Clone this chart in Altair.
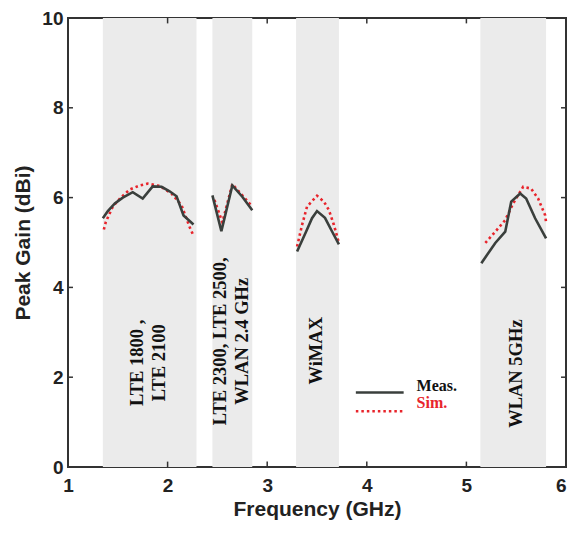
import altair as alt
import pandas as pd

# ---- data ----
band_start = [1.35, 2.45, 3.29, 5.14]
band_end = [2.29, 2.85, 3.72, 5.80]

meas_f1 = [1.35, 1.40, 1.47, 1.55, 1.65, 1.75, 1.85, 1.94, 2.02, 2.09, 2.16, 2.26]
meas_g1 = [5.54, 5.70, 5.87, 6.00, 6.12, 5.98, 6.25, 6.24, 6.14, 6.03, 5.60, 5.40]
sim_f1 = [1.36, 1.38, 1.45, 1.53, 1.62, 1.72, 1.80, 1.92, 2.04, 2.14, 2.22, 2.26]
sim_g1 = [5.29, 5.46, 5.80, 6.00, 6.18, 6.27, 6.31, 6.26, 6.09, 5.83, 5.35, 5.15]

meas_f2 = [2.45, 2.54, 2.65, 2.75, 2.85]
meas_g2 = [6.05, 5.25, 6.27, 6.02, 5.72]
sim_f2 = [2.47, 2.55, 2.65, 2.75, 2.85]
sim_g2 = [5.95, 5.45, 6.30, 6.05, 5.80]

meas_f3 = [3.30, 3.39, 3.45, 3.50, 3.58, 3.65, 3.72]
meas_g3 = [4.80, 5.24, 5.54, 5.70, 5.55, 5.25, 4.96]
sim_f3 = [3.30, 3.35, 3.40, 3.50, 3.57, 3.62, 3.67, 3.72]
sim_g3 = [4.91, 5.39, 5.80, 6.04, 5.91, 5.72, 5.39, 4.99]

meas_f4 = [5.15, 5.29, 5.39, 5.45, 5.54, 5.60, 5.69, 5.80]
meas_g4 = [4.54, 4.99, 5.24, 5.91, 6.09, 5.98, 5.54, 5.09]
sim_f4 = [5.19, 5.29, 5.39, 5.47, 5.57, 5.65, 5.72, 5.79, 5.80]
sim_g4 = [4.99, 5.24, 5.50, 5.87, 6.24, 6.20, 5.98, 5.61, 5.45]

label_text = ["LTE 1800 ,\nLTE 2100", "LTE 2300, LTE 2500,\nWLAN 2.4 GHz", "WiMAX", "WLAN 5GHz"]
label_x = [1.69, 2.53, 3.49, 5.50]
label_y = [2.32, 2.80, 2.59, 2.08]

legend_names = ["Meas.", "Sim."]
legend_x0 = [3.89, 3.89]
legend_x1 = [4.37, 4.37]
legend_line_y = [1.66, 1.24]
legend_text_x = [4.50, 4.50]
legend_text_y = [1.81, 1.42]

x_ticks = [1, 2, 3, 4, 5, 6]
y_ticks = [0, 2, 4, 6, 8, 10]
x_inner_ticks = [2, 3, 4, 5]
y_inner_ticks = [2, 4, 6, 8]

MEAS_COLOR = "#3a3f3c"
SIM_COLOR = "#e8242b"

# ---- tables ----
def series(fs, gs, tag):
    rows = []
    for i, (f, g) in enumerate(zip(fs, gs)):
        for a, b in zip(f, g):
            rows.append({"f": a, "g": b, "band": i, "series": tag})
    return pd.DataFrame(rows)

meas = series([meas_f1, meas_f2, meas_f3, meas_f4], [meas_g1, meas_g2, meas_g3, meas_g4], "Meas.")
sim = series([sim_f1, sim_f2, sim_f3, sim_f4], [sim_g1, sim_g2, sim_g3, sim_g4], "Sim.")
bands = pd.DataFrame({"start": band_start, "end": band_end})
labels = pd.DataFrame({"x": label_x, "y": label_y, "t": label_text})
leg = pd.DataFrame({"name": legend_names, "x0": legend_x0, "x1": legend_x1,
                    "ly": legend_line_y, "tx": legend_text_x, "ty": legend_text_y})
xt = pd.DataFrame({"v": x_inner_ticks})
yt = pd.DataFrame({"v": y_inner_ticks})

xs = alt.Scale(domain=[1, 6], nice=False, zero=False)
ys = alt.Scale(domain=[0, 10], nice=False, zero=False)
xaxis = alt.Axis(
    values=x_ticks, title="Frequency (GHz)", format="d", labelFlush=False,
    labelAlign=alt.condition("datum.value >= 6", alt.value("right"), alt.value("center")),
)
yaxis = alt.Axis(values=y_ticks, title="Peak Gain (dBi)", format="d", labelFlush=False)


def X(field=None, datum=None):
    if datum is not None:
        return alt.X(datum=datum, type="quantitative", scale=xs, axis=xaxis)
    return alt.X(field, type="quantitative", scale=xs, axis=xaxis)


def Y(field=None, datum=None):
    if datum is not None:
        return alt.Y(datum=datum, type="quantitative", scale=ys, axis=yaxis)
    return alt.Y(field, type="quantitative", scale=ys, axis=yaxis)


band_layer = alt.Chart(bands).mark_rect(color="#ebebeb").encode(
    x=X("start"), x2="end", y=Y(datum=0), y2=alt.Y2(datum=10)
)

meas_layer = alt.Chart(meas).mark_line(color=MEAS_COLOR, strokeWidth=2.6).encode(
    x=X("f"), y=Y("g"), detail="band:N"
)
sim_layer = alt.Chart(sim).mark_line(color=SIM_COLOR, strokeWidth=2.6, strokeDash=[2.5, 3]).encode(
    x=X("f"), y=Y("g"), detail="band:N"
)

text_layer = alt.Chart(labels).mark_text(
    angle=270, align="center", baseline="middle", font="Liberation Serif",
    fontWeight="bold", fontSize=18.5, lineHeight=22, lineBreak="\n", color="#111111"
).encode(x=X("x"), y=Y("y"), text="t:N")

leg_meas_line = alt.Chart(leg[leg.name == "Meas."]).mark_rule(color=MEAS_COLOR, strokeWidth=2.6).encode(
    x=X("x0"), x2="x1", y=Y("ly")
)
leg_sim_line = alt.Chart(leg[leg.name == "Sim."]).mark_rule(color=SIM_COLOR, strokeWidth=2.6, strokeDash=[2.5, 3]).encode(
    x=X("x0"), x2="x1", y=Y("ly")
)
leg_text = alt.Chart(leg).mark_text(
    align="left", baseline="middle", font="Liberation Serif", fontWeight="bold", fontSize=16
).encode(
    x=X("tx"), y=Y("ty"), text="name:N",
    color=alt.Color("name:N", scale=alt.Scale(domain=legend_names, range=["#111111", SIM_COLOR]), legend=None),
)

TICK_C = "#333333"
tick_bottom = alt.Chart(xt).mark_rule(color=TICK_C, strokeWidth=1.5).encode(
    x=X("v"), y=Y(datum=0), y2=alt.Y2(datum=0.12))
tick_top = alt.Chart(xt).mark_rule(color=TICK_C, strokeWidth=1.5).encode(
    x=X("v"), y=Y(datum=10), y2=alt.Y2(datum=9.88))
tick_left = alt.Chart(yt).mark_rule(color=TICK_C, strokeWidth=1.5).encode(
    y=Y("v"), x=X(datum=1), x2=alt.X2(datum=1.05))
tick_right = alt.Chart(yt).mark_rule(color=TICK_C, strokeWidth=1.5).encode(
    y=Y("v"), x=X(datum=6), x2=alt.X2(datum=5.95))

chart = alt.layer(
    band_layer, sim_layer, meas_layer, text_layer,
    leg_meas_line, leg_sim_line, leg_text,
    tick_bottom, tick_top, tick_left, tick_right,
).properties(
    width=498, height=449,
    autosize=alt.AutoSizeParams(type="none"),
    padding={"left": 60, "top": 10, "right": 1, "bottom": 56},
    background="white",
).configure_view(
    stroke="#333333", strokeWidth=2
).configure_axis(
    domain=False, grid=False, ticks=False, tickSize=0,
    labelFont="Liberation Sans", labelFontWeight="bold", labelFontSize=19, labelColor="#222222",
    titleFont="Liberation Sans", titleFontWeight="bold", titleFontSize=21, titleColor="#222222",
).configure_axisX(
    labelPadding=9, titlePadding=3
).configure_axisY(
    labelPadding=5, titlePadding=8
)

chart.save("out.html", embed_options={"renderer": "svg", "actions": False})
